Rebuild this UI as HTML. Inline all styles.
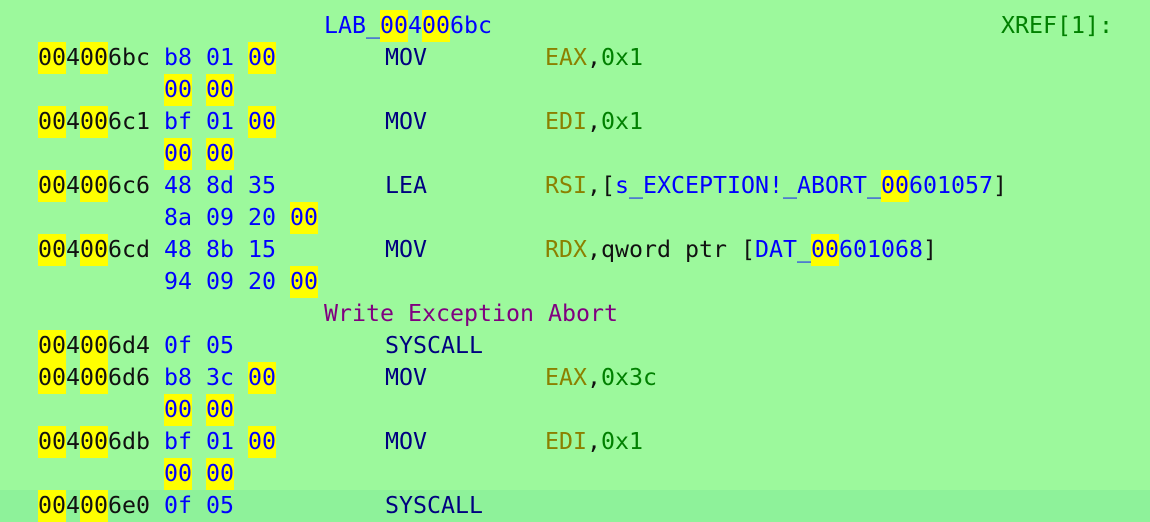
<!DOCTYPE html>
<html><head><meta charset="utf-8">
<style>
html,body{margin:0;padding:0}
body{width:1150px;height:522px;background:#9cf99c;position:relative;overflow:hidden;
font-family:"DejaVu Sans Mono","Liberation Mono",monospace;font-size:23.25px;}
.r{position:absolute;left:0;width:1150px;height:32px;line-height:32px;white-space:pre}
.r span.c{position:absolute;top:0}
.h{background:#ffff00;display:inline-block;height:32px}
.a{color:#111}
.b{color:#0000ff}
.m{color:#000080}
.g{color:#8b8000}
.n{color:#008000}
.k{color:#111}
.p{color:#800080}
.last{background:#8ef29a}
</style></head><body>
<div class="r" style="top:10px"><span class="c b" style="left:324px">LAB_<span class="h">00</span>4<span class="h">00</span>6bc</span><span class="c n" style="left:1001px">XREF[1]:</span></div>

<div class="r" style="top:42px"><span class="c a" style="left:38px"><span class="h">00</span>4<span class="h">00</span>6bc</span><span class="c b" style="left:164px">b8 01 <span class="h">00</span></span><span class="c m" style="left:385px">MOV</span><span class="c" style="left:545px"><span class="g">EAX</span><span class="k">,</span><span class="n">0x1</span></span></div>
<div class="r" style="top:74px"><span class="c b" style="left:164px"><span class="h">00</span> <span class="h">00</span></span></div>

<div class="r" style="top:106px"><span class="c a" style="left:38px"><span class="h">00</span>4<span class="h">00</span>6c1</span><span class="c b" style="left:164px">bf 01 <span class="h">00</span></span><span class="c m" style="left:385px">MOV</span><span class="c" style="left:545px"><span class="g">EDI</span><span class="k">,</span><span class="n">0x1</span></span></div>
<div class="r" style="top:138px"><span class="c b" style="left:164px"><span class="h">00</span> <span class="h">00</span></span></div>

<div class="r" style="top:170px"><span class="c a" style="left:38px"><span class="h">00</span>4<span class="h">00</span>6c6</span><span class="c b" style="left:164px">48 8d 35</span><span class="c m" style="left:385px">LEA</span><span class="c" style="left:545px"><span class="g">RSI</span><span class="k">,[</span><span class="b">s_EXCEPTION!_ABORT_<span class="h">00</span>601057</span><span class="k">]</span></span></div>
<div class="r" style="top:202px"><span class="c b" style="left:164px">8a 09 20 <span class="h">00</span></span></div>

<div class="r" style="top:234px"><span class="c a" style="left:38px"><span class="h">00</span>4<span class="h">00</span>6cd</span><span class="c b" style="left:164px">48 8b 15</span><span class="c m" style="left:385px">MOV</span><span class="c" style="left:545px"><span class="g">RDX</span><span class="k">,qword ptr [</span><span class="b">DAT_<span class="h">00</span>601068</span><span class="k">]</span></span></div>
<div class="r" style="top:266px"><span class="c b" style="left:164px">94 09 20 <span class="h">00</span></span></div>

<div class="r" style="top:298px"><span class="c p" style="left:324px">Write Exception Abort</span></div>

<div class="r" style="top:330px"><span class="c a" style="left:38px"><span class="h">00</span>4<span class="h">00</span>6d4</span><span class="c b" style="left:164px">0f 05</span><span class="c m" style="left:385px">SYSCALL</span></div>

<div class="r" style="top:362px"><span class="c a" style="left:38px"><span class="h">00</span>4<span class="h">00</span>6d6</span><span class="c b" style="left:164px">b8 3c <span class="h">00</span></span><span class="c m" style="left:385px">MOV</span><span class="c" style="left:545px"><span class="g">EAX</span><span class="k">,</span><span class="n">0x3c</span></span></div>
<div class="r" style="top:394px"><span class="c b" style="left:164px"><span class="h">00</span> <span class="h">00</span></span></div>

<div class="r" style="top:426px"><span class="c a" style="left:38px"><span class="h">00</span>4<span class="h">00</span>6db</span><span class="c b" style="left:164px">bf 01 <span class="h">00</span></span><span class="c m" style="left:385px">MOV</span><span class="c" style="left:545px"><span class="g">EDI</span><span class="k">,</span><span class="n">0x1</span></span></div>
<div class="r" style="top:458px"><span class="c b" style="left:164px"><span class="h">00</span> <span class="h">00</span></span></div>

<div class="r last" style="top:490px"><span class="c a" style="left:38px"><span class="h">00</span>4<span class="h">00</span>6e0</span><span class="c b" style="left:164px">0f 05</span><span class="c m" style="left:385px">SYSCALL</span></div>
</body></html>
